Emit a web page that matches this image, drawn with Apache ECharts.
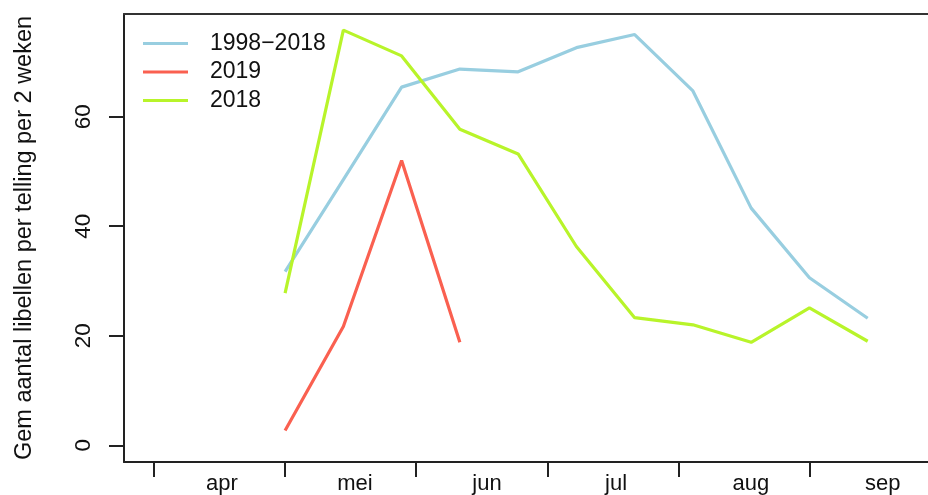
<!DOCTYPE html>
<html>
<head>
<meta charset="utf-8">
<script src="https://cdn.jsdelivr.net/npm/echarts@6/dist/echarts.min.js"></script>
<style>
html,body{margin:0;padding:0;background:#fff;}
#c{width:928px;height:495px;}
</style>
</head>
<body>
<div id="c"></div>
<script>
// Data (x = week number, biweekly counts)
const weeks = [18, 20, 22, 24, 26, 28, 30, 32, 34, 36, 38];
const avg19982018 = [31.7, 48.5, 65.4, 68.7, 68.2, 72.6, 75.0, 64.7, 43.3, 30.6, 23.2];
const y2019 = [2.7, 21.7, 52.0, 18.8];
const y2018 = [27.8, 75.8, 71.1, 57.7, 53.2, 36.3, 23.3, 22.0, 18.8, 25.1, 19.0];

const monthTicks = [13.5, 18, 22.5, 27, 31.5, 36];
const monthLabelPos = [15.83, 20.4, 24.93, 29.36, 33.99, 38.52];
const monthNames = ['apr', 'mei', 'jun', 'jul', 'aug', 'sep'];
const yTicks = [0, 20, 40, 60];

const seriesNames = ['1998\u22122018', '2019', '2018'];
const colors = ['#98CEE0', '#FA6050', '#B8F42A'];

function pairs(vals) { return vals.map((v, i) => [weeks[i], v]); }

const FONT = 'Liberation Sans, Arial, sans-serif';
const chart = echarts.init(document.getElementById('c'));
chart.setOption({
  animation: false,
  backgroundColor: '#fff',
  grid: { left: 124, right: 0, top: 14, bottom: 32 },
  legend: {
    orient: 'vertical', left: 143, top: 32, padding: 0,
    itemWidth: 45, itemHeight: 3, itemGap: 5.5, icon: 'rect',
    textStyle: { fontFamily: FONT, fontSize: 23, color: '#111', padding: [0, 0, 0, 17] },
    data: seriesNames
  },
  xAxis: [{
    type: 'value', min: 12.47, max: 40.07,
    splitLine: { show: false },
    axisLine: { show: true, onZero: false, lineStyle: { color: '#222', width: 2 } },
    axisTick: { show: true, length: 15, customValues: monthTicks, lineStyle: { color: '#222', width: 2 } },
    axisLabel: {
      show: true, customValues: monthLabelPos, margin: 11,
      fontFamily: FONT, fontSize: 22, color: '#111',
      formatter: function (v) {
        let best = 0;
        for (let i = 0; i < monthLabelPos.length; i++) {
          if (Math.abs(monthLabelPos[i] - v) < Math.abs(monthLabelPos[best] - v)) best = i;
        }
        return monthNames[best];
      }
    }
  }, {
    type: 'value', position: 'top', min: 12.47, max: 40.07,
    splitLine: { show: false },
    axisLine: { show: true, onZero: false, lineStyle: { color: '#333', width: 2 } },
    axisTick: { show: false }, axisLabel: { show: false }
  }],
  yAxis: {
    type: 'value', min: -3.05, max: 78.75,
    name: 'Gem aantal libellen per telling per 2 weken',
    nameLocation: 'middle', nameRotate: 90, nameGap: 87,
    nameTextStyle: { fontFamily: FONT, fontSize: 23.5, color: '#111' },
    splitLine: { show: false },
    axisLine: { show: true, onZero: false, lineStyle: { color: '#222', width: 2 } },
    axisTick: { show: true, length: 15, customValues: yTicks, lineStyle: { color: '#222', width: 2 } },
    axisLabel: {
      show: true, customValues: yTicks, rotate: 90, margin: 29,
      fontFamily: FONT, fontSize: 22.5, color: '#111'
    }
  },
  series: [
    { name: seriesNames[0], type: 'line', data: pairs(avg19982018), symbol: 'none',
      lineStyle: { color: colors[0], width: 3.2 }, itemStyle: { color: colors[0] } },
    { name: seriesNames[1], type: 'line', data: pairs(y2019), symbol: 'none',
      lineStyle: { color: colors[1], width: 3.2 }, itemStyle: { color: colors[1] } },
    { name: seriesNames[2], type: 'line', data: pairs(y2018), symbol: 'none',
      lineStyle: { color: colors[2], width: 3.2 }, itemStyle: { color: colors[2] } }
  ]
});
</script>
</body>
</html>
